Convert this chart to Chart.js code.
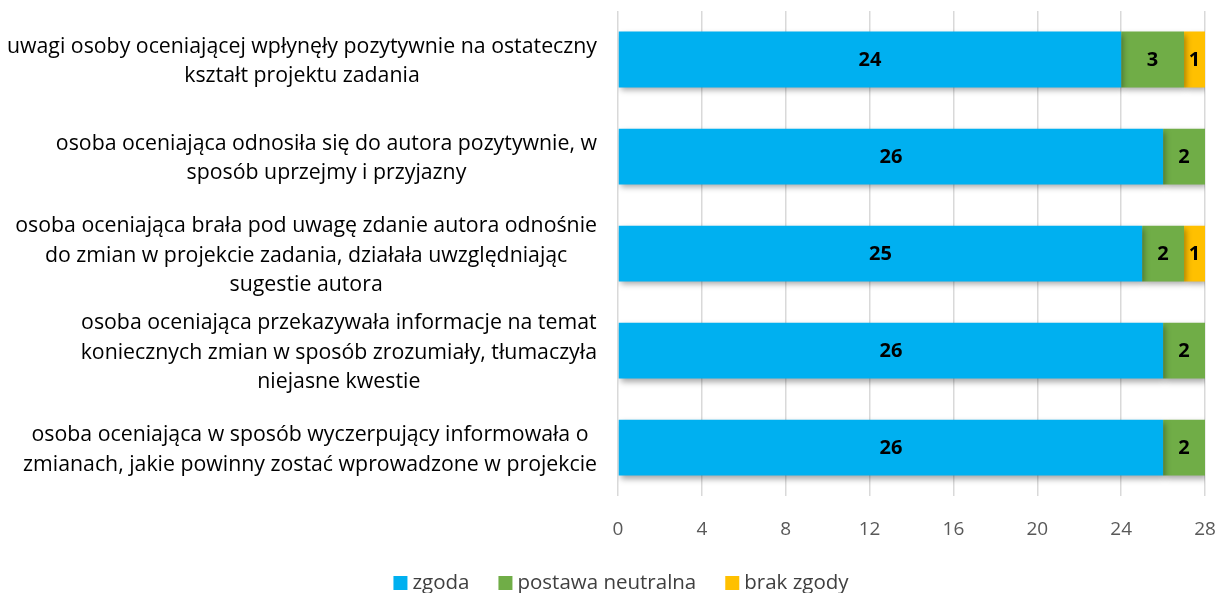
<!DOCTYPE html>
<html>
<head>
<meta charset="utf-8">
<script src="https://cdn.jsdelivr.net/npm/chart.js@4.4.1/dist/chart.umd.min.js"></script>
<style>
  html, body { margin: 0; padding: 0; background: #fff; }
  #wrap { width: 1218px; height: 593px; position: relative; }
</style>
</head>
<body>
<div id="wrap"><canvas id="myChart" width="1218" height="593"></canvas></div>
<script>
// Category labels (already broken into lines)
const categories = [
    ['uwagi osoby oceniającej wpłynęły pozytywnie na ostateczny', 'kształt projektu zadania'],
    ['osoba oceniająca odnosiła się do autora pozytywnie, w', 'sposób uprzejmy i przyjazny'],
    ['osoba oceniająca brała pod uwagę zdanie autora odnośnie', 'do zmian w projekcie zadania, działała uwzględniając', 'sugestie autora'],
    ['osoba oceniająca przekazywała informacje na temat', 'koniecznych zmian w sposób zrozumiały, tłumaczyła', 'niejasne kwestie'],
    ['osoba oceniająca w sposób wyczerpujący informowała o', 'zmianach, jakie powinny zostać wprowadzone w projekcie']
];
const seriesNames = ['zgoda', 'postawa neutralna', 'brak zgody'];
const zgoda = [24, 26, 25, 26, 26];
const neutralna = [3, 2, 2, 2, 2];
const brakZgody = [1, 0, 1, 0, 0];
const xTicks = [0, 4, 8, 12, 16, 20, 24, 28];

const colors = ['#00B0F0', '#70AD47', '#FFC000'];
const FONT = '"Open Sans", "Noto Sans", sans-serif';

// drop shadow under the bars
const barShadow = {
    id: 'barShadow',
    beforeDatasetsDraw(chart) {
        const ctx = chart.ctx;
        ctx.save();
        ctx.shadowColor = 'rgba(0,0,0,0.35)';
        ctx.shadowBlur = 6;
        ctx.shadowOffsetX = 2;
        ctx.shadowOffsetY = 3;
    },
    afterDatasetsDraw(chart) {
        chart.ctx.restore();
    }
};

// values inside the segments
const segmentLabels = {
    id: 'segmentLabels',
    afterDatasetsDraw(chart) {
        const ctx = chart.ctx;
        ctx.save();
        ctx.font = 'bold 20px ' + FONT;
        ctx.fillStyle = '#000';
        ctx.textAlign = 'center';
        ctx.textBaseline = 'middle';
        chart.data.datasets.forEach((ds, di) => {
            const meta = chart.getDatasetMeta(di);
            meta.data.forEach((bar, i) => {
                const v = ds.data[i];
                if (!v) return;
                const p = bar.getProps(['x', 'y', 'base'], true);
                ctx.fillText(String(v), (p.x + p.base) / 2, p.y + 1);
            });
        });
        ctx.restore();
    }
};

// category labels: each block right-aligned, lines centred inside the block
const categoryLabels = {
    id: 'categoryLabels',
    afterDraw(chart) {
        const ctx = chart.ctx;
        const yScale = chart.scales.y;
        const right = 597;
        const lineH = 29.5;
        ctx.save();
        ctx.font = '21.3px ' + FONT;
        ctx.fillStyle = '#000';
        ctx.textAlign = 'center';
        ctx.textBaseline = 'middle';
        categories.forEach((lines, i) => {
            const yc = yScale.getPixelForValue(i) + 2;
            const w = Math.max(...lines.map(l => ctx.measureText(l).width));
            const cx = right - w / 2;
            const y0 = yc - (lines.length - 1) * lineH / 2;
            lines.forEach((l, k) => ctx.fillText(l, cx, y0 + k * lineH));
        });
        ctx.restore();
    }
};

// legend drawn by hand so the spacing matches (box, small gap, text)
const bottomLegend = {
    id: 'bottomLegend',
    afterDraw(chart) {
        const ctx = chart.ctx;
        const box = 14, gap = 5, itemGap = 29, cy = 583, centerX = 621;
        ctx.save();
        ctx.font = '20.5px ' + FONT;
        ctx.textBaseline = 'middle';
        ctx.textAlign = 'left';
        const items = chart.data.datasets.map(ds => ({
            text: ds.label, color: ds.backgroundColor,
            w: box + gap + ctx.measureText(ds.label).width
        }));
        const total = items.reduce((s, it) => s + it.w, 0) + itemGap * (items.length - 1);
        let x = centerX - total / 2;
        items.forEach(it => {
            ctx.fillStyle = it.color;
            ctx.fillRect(x, cy - box / 2, box, box);
            ctx.fillStyle = '#404040';
            ctx.fillText(it.text, x + box + gap, cy);
            x += it.w + itemGap;
        });
        ctx.restore();
    }
};

const ctx = document.getElementById('myChart').getContext('2d');
new Chart(ctx, {
    type: 'bar',
    data: {
        labels: categories,
        datasets: [
            { label: seriesNames[0], data: zgoda, backgroundColor: colors[0] },
            { label: seriesNames[1], data: neutralna, backgroundColor: colors[1] },
            { label: seriesNames[2], data: brakZgody, backgroundColor: colors[2] }
        ]
    },
    options: {
        indexAxis: 'y',
        responsive: false,
        animation: false,
        maintainAspectRatio: false,
        layout: { padding: { left: 0, right: 0, top: 11, bottom: 30 } },
        datasets: {
            bar: { barPercentage: 0.575, categoryPercentage: 1 }
        },
        scales: {
            x: {
                stacked: true,
                min: 0,
                max: 28,
                afterBuildTicks(scale) {
                    scale.ticks = xTicks.map(v => ({ value: v }));
                },
                afterFit(scale) { scale.paddingRight = 13; },
                grid: { color: '#D9D9D9', lineWidth: 1.5, drawTicks: false },
                border: { display: false },
                ticks: {
                    padding: 22,
                    color: '#595959',
                    font: { family: FONT, size: 19 }
                }
            },
            y: {
                stacked: true,
                grid: { display: false },
                border: { display: false },
                ticks: { display: false },
                afterFit(scale) { scale.width = 618; }
            }
        },
        plugins: {
            legend: { display: false },
            tooltip: { enabled: false }
        }
    },
    plugins: [barShadow, segmentLabels, categoryLabels, bottomLegend]
});
</script>
</body>
</html>
